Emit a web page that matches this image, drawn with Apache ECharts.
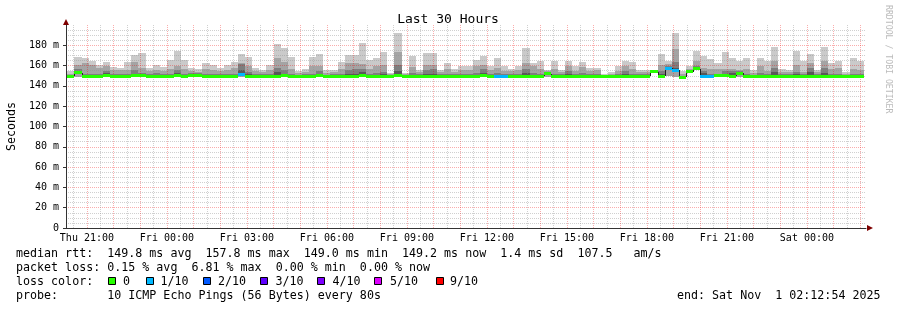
<!DOCTYPE html>
<html><head><meta charset="utf-8">
<script src="https://cdn.jsdelivr.net/npm/echarts@6/dist/echarts.min.js"></script>
<style>html,body{margin:0;padding:0;background:#fff}#c{width:897px;height:310px}</style>
</head><body><div id="c"></div>
<script>
// ---- data ----
const binStartMinute = 1216;   // first bin starts Thu 20:16 (minutes after Thu 00:00)
const binMinutes = 16;
const rttMax = [155,168,167,165,160.5,163.5,158.5,158,163.5,170,
172,158,161,158.5,166,174,166,158,156.5,162.5,
161,158,161,163.5,171,168,158,156,161,181,
177,168,155,157,168,171,156,156,163.5,170,
170,182,166,167,173,153,192,153,169.5,156,
172.5,172.5,156,162.5,157,160,160,165.5,169.5,160,
167,160,157,160,177,163,164.5,156,164.5,156,
165,160,163.5,158,158,151.5,154,160,164.5,163.5,
156,156,156,171,165,192,155,160,174.5,169.5,
166.5,163,173,167,165,167,156,167,165,178,
157,156,174.5,165,171.5,156,178,162.5,165,154,
167,165];
const rttP9 = [152,161,163,160.5,157.5,160,155.5,156,156,163.5,
158,155,156,155,157,160,157,155,154,157,
156,155,156,158,163,160,155,154,156,167,
164,157,153,154,160,160,153,154,157,163,
163,162,157,160,161,152,173,152,159,154,
161,161,154,157,154,156,156,160,160.5,156,
158,155,155,156,163,160,157,155,157,154,
160,155,159,155,156,151,152,155,160,157,
154,154,155.5,161,162,176,152,157,164.5,157.5,
157,157,157,157,156,157,153,160,155,164.5,
154,154,161,154,163,154,164.5,157,158,152,
157,156];
const rttP8 = [151,157,152,151.5,151.5,155,151.5,151.5,152,156,
153,151.5,153,151.5,152,156,152,152.5,152.5,152,
151.5,151.5,152,152,162,154,151.5,151.5,151.5,158,
156,152,151,151.5,152,155,151,151.5,152,156,
157,157,152,153,154,151,160.5,151,153,151.5,
156,157,151.5,152,151.5,151.5,151.5,153,157,151.5,
153,151.5,152,151.5,157,153,152,154,152,151.5,
155,151.5,153,151.5,151.5,150.5,151,151.5,155,152,
151.5,151.5,155,155,160,164,150,155.5,160,155,
152,152,155,155,155,152,151,153,151.5,158,
151.5,151.5,154,152,158,151.5,158,152,152,151,
152,151.5];
const rttP7 = [150.5,155,150.5,150.5,150.5,153,150.5,150.5,150.5,152,
151,150.5,151,150.5,150.5,153,150.5,151.5,151.5,150.5,
150.5,150.5,150.5,150.5,156,151.5,150.5,150.5,150.5,154,
152,150.5,150,150.5,150.5,152,150,150.5,150.5,152,
152,154,150.5,151,151.5,150.5,155,150.5,151,150.5,
152,152,150.5,150.5,150.5,150.5,150.5,151,153,150.5,
150.5,150.5,151,150.5,153,151,150.5,153,150.5,150.5,
152,150.5,151,150.5,150.5,150,150,150.5,152,150.5,
150.5,150.5,154.5,152,159,158,149.5,155,158,153,
150.5,150.5,152,152.5,154,150.5,150,151,150.5,154,
150.5,150.5,152,150.5,154,150.5,153,150.5,150.5,150.5,
150.5,150.5];
const rttMedian = [149.5,153,149.5,149.5,149.5,150,149.5,149.5,149.5,150,
150,149.5,149.5,149.5,149.5,150,149.5,150.5,150.5,149.5,
149.5,149.5,149.5,149.5,151,149.5,149.5,149.5,149.5,149.5,
150,149.5,149,149.5,149.5,150,149,149.5,149.5,149.5,
149.5,150,149.5,149.5,149.5,149.5,150,149.5,149.5,149.5,
149.5,149.5,149.5,149.5,149.5,149.5,149.5,149.5,150,149.5,
149.5,149.5,149.5,149.5,149.5,149.5,149.5,152,149.5,149.5,
149.5,149.5,149.5,149.5,149.5,149.5,149.5,149.5,149.5,149.5,
149.5,149.5,154,149.5,157.5,155.5,148.5,154,157,149.5,
149.5,150,150,149.5,152.5,149.5,149,149.5,149.5,149.5,
149,149.5,149.5,149.5,149.5,149.5,149.5,149.5,149.5,149.5,
149.5,149.5];
const rttMin = [148.5,149,148.5,148.5,148.5,148.5,148.5,148.5,148.5,148.5,
148.5,148.5,148.5,148.5,148.5,148.5,148.5,149,149,148.5,
148.5,148.5,148.5,148.5,149,148.5,148.5,148.5,148.5,148.5,
148.5,148.5,148,148.5,148.5,148.5,148,148.5,148.5,148.5,
148.5,148.5,148.5,148.5,148.5,148.5,148.5,148.5,148.5,148.5,
148.5,148.5,148.5,148.5,148.5,148.5,148.5,148.5,148.5,148.5,
148.5,148.5,148.5,148.5,148.5,148.5,148.5,149,148.5,148.5,
148.5,148.5,148.5,148.5,148.5,148.5,148.5,148.5,148.5,148.5,
148.5,148.5,153,148.5,150,149,147.5,153,156,148.5,
148.5,148.5,148.5,148.5,149,148.5,148,148.5,148.5,148.5,
148,148.5,148.5,148.5,148.5,148.5,148.5,148.5,148.5,148.5,
148.5,148.5];
const lossTenths = [0,0,0,0,0,0,0,0,0,0, 0,0,0,0,0,0,0,0,0,0, 0,0,0,0,1,0,0,0,0,0,
0,0,0,0,0,0,0,0,0,0, 0,0,0,0,0,0,0,0,0,0, 0,0,0,0,0,0,0,0,0,0,
1,1,0,0,0,0,0,0,0,0, 0,0,0,0,0,0,0,0,0,0, 0,0,0,0,1,1,0,0,0,1,
1,0,0,0,0,0,0,0,0,0, 0,0,0,0,0,0,0,0,0,0, 0,0];
const lossLevels = [0,1,2,3,4,5,9];
const lossLabels = ['0','1/10','2/10','3/10','4/10','5/10','9/10'];
const lossColors = ['#26ff00','#00b8ff','#0059ff','#5e00ff','#7e00ff','#dd00ff','#ff0000'];
const tickHours = [21,24,27,30,33,36,39,42,45,48];
const tickLabels = ['Thu 21:00','Fri 00:00','Fri 03:00','Fri 06:00','Fri 09:00','Fri 12:00','Fri 15:00','Fri 18:00','Fri 21:00','Sat 00:00'];
const startHour = 20 + 12/60 + 54/3600;  // Thu 20:12:54
const endHour = startHour + 30;           // Sat 02:12:54
const statsLine1 = 'median rtt:  149.8 ms avg  157.8 ms max  149.0 ms min  149.2 ms now  1.4 ms sd  107.5   am/s';
const statsLine2 = 'packet loss: 0.15 % avg  6.81 % max  0.00 % min  0.00 % now';
const probeLine = 'probe:       10 ICMP Echo Pings (56 Bytes) every 80s';
const endLine = 'end: Sat Nov  1 02:12:54 2025';

// ---- layout ----
const MONO = '"DejaVu Sans Mono", monospace';
const LEG_FS = 11.66;
const swatchX = [108.5,146.5,203.5,260.5,317.5,374.5,436.5];
const swatchTextX = [123,160.5,218,275.5,332.5,390,450];
const MGRID = 'rgba(240,0,0,0.32)';
const GRID = 'rgba(143,143,143,0.42)';

function lossColor(l){ let c = lossColors[0]; lossLevels.forEach((lv,k)=>{ if (l >= lv) c = lossColors[k]; }); return c; }

const items = rttMax.map((mx, i) => {
  const t0 = (binStartMinute + i*binMinutes)/60, t1 = (binStartMinute + (i+1)*binMinutes)/60;
  return [t0, t1, rttMin[i], rttP7[i], rttP8[i], rttP9[i], mx, rttMedian[i], lossTenths[i], i ? rttMedian[i-1] : rttMedian[i]];
});

function binEdges(api) {
  const t0 = api.value(0), t1 = api.value(1);
  return [Math.round(api.coord([t0, 0])[0]), Math.round(api.coord([t1, 0])[0]), v => api.coord([t0, v])[1]];
}
function renderSmoke(params, api) {
  const [xa, xb, Y] = binEdges(api);
  const band = (lo, hi, fill) => {
    const ya = Math.round(Y(hi)), yb = Math.round(Y(lo));
    return {type:'rect', shape:{x:xa, y:ya, width:xb-xa, height:Math.max(0, yb-ya)}, style:{fill}};
  };
  const mn = api.value(2), p7 = api.value(3), p8 = api.value(4), p9 = api.value(5), mx = api.value(6), med = api.value(7);
  return {type:'group', children:[
    band(mn, mx, '#cacaca'),
    band(mn, p9, '#a4a4a4'),
    band(med, p8, '#7e7e7e'),
    band(med, p7, '#585858')
  ]};
}
function renderMedian(params, api) {
  const [xa, xb, Y] = binEdges(api);
  const med = api.value(7), loss = api.value(8), prev = api.value(9);
  const yc = Y(med);
  return {type:'group', children:[
    {type:'line', shape:{x1:xa+0.5, y1:Math.round(Y(prev)), x2:xa+0.5, y2:Math.round(yc)}, style:{stroke:'#202020', lineWidth:1}},
    {type:'rect', shape:{x:xa, y:Math.round(yc-1.5), width:xb-xa, height:3}, style:{fill:lossColor(loss)}}
  ]};
}

const graphics = [
  {type:'text', x:448, y:20, style:{text:'Last 30 Hours', font:'13px '+MONO, fill:'#000', align:'center', verticalAlign:'middle', textAlign:'center', textVerticalAlign:'middle'}},
  {type:'text', x:888, y:5, rotation:-Math.PI/2, style:{text:'RRDTOOL / TOBI OETIKER', font:'8.2px '+MONO, fill:'#bbbbbb', align:'left', verticalAlign:'middle', textAlign:'left', textVerticalAlign:'middle'}},
  {type:'text', x:16, y:254, style:{text:statsLine1, font:LEG_FS+'px '+MONO, fill:'#000', verticalAlign:'middle', textVerticalAlign:'middle'}},
  {type:'text', x:16, y:268, style:{text:statsLine2, font:LEG_FS+'px '+MONO, fill:'#000', verticalAlign:'middle', textVerticalAlign:'middle'}},
  {type:'text', x:16, y:282, style:{text:'loss color:', font:LEG_FS+'px '+MONO, fill:'#000', verticalAlign:'middle', textVerticalAlign:'middle'}},
  {type:'text', x:16, y:296, style:{text:probeLine, font:LEG_FS+'px '+MONO, fill:'#000', verticalAlign:'middle', textVerticalAlign:'middle'}},
  {type:'text', x:880.5, y:296, style:{text:endLine, font:LEG_FS+'px '+MONO, fill:'#000', align:'right', textAlign:'right', verticalAlign:'middle', textVerticalAlign:'middle'}}
];
lossLabels.forEach((lab, k) => {
  graphics.push({type:'rect', shape:{x:swatchX[k], y:277.5, width:7, height:7}, style:{fill:lossColors[k], stroke:'#000', lineWidth:1}});
  graphics.push({type:'text', x:swatchTextX[k], y:282, style:{text:lab, font:LEG_FS+'px '+MONO, fill:'#000', verticalAlign:'middle', textVerticalAlign:'middle'}});
});

const chart = echarts.init(document.getElementById('c'), null, {renderer:'canvas'});
chart.setOption({
  animation:false,
  backgroundColor:'#ffffff',
  grid:{left:66, top:25, width:800, height:203, containLabel:false, outerBoundsMode:'none'},
  xAxis:[
    {type:'value', min:startHour, max:endHour, splitNumber:30, minInterval:1, maxInterval:1, z:5,
     axisLine:{show:true, lineStyle:{color:'#333', width:1}}, axisTick:{show:false}, axisLabel:{show:false},
     splitLine:{show:true, showMinLine:false, showMaxLine:false, lineStyle:{color:MGRID, width:1, type:[1,1]}},
     minorTick:{show:false, splitNumber:2},
     minorSplitLine:{show:true, lineStyle:{color:GRID, width:1, type:[1,1]}}},
    {type:'value', position:'bottom', min:startHour, max:endHour, minInterval:3, maxInterval:3, z:5,
     axisLine:{show:false}, axisTick:{show:false}, splitLine:{show:false},
     axisLabel:{show:true, interval:0, showMinLabel:false, showMaxLabel:false, margin:5, color:'#000', fontFamily:MONO, fontSize:10,
       formatter:v => { const k = tickHours.findIndex(h => Math.abs(h - v) < 1e-6); return k >= 0 ? tickLabels[k] : ''; }}},
    {type:'value', position:'bottom', min:startHour, max:endHour, z:12,
     axisLine:{show:true, symbol:['none','triangle'], symbolSize:[6,6], symbolOffset:[0,4], lineStyle:{color:'#7f0000', width:0}},
     axisTick:{show:false}, axisLabel:{show:false}, splitLine:{show:false}}
  ],
  yAxis:[
    {type:'value', min:0, max:200, interval:20, z:5,
     axisLine:{show:true, lineStyle:{color:'#333', width:1}},
     axisTick:{show:true, length:3, lineStyle:{color:'#333'}},
     axisLabel:{showMaxLabel:false, margin:7, color:'#000', fontFamily:MONO, fontSize:10, formatter:v => v === 0 ? '0' : v + ' m'},
     splitLine:{show:true, showMinLine:false, showMaxLine:false, lineStyle:{color:MGRID, width:1, type:[1,1]}},
     minorTick:{show:false, splitNumber:4},
     minorSplitLine:{show:true, lineStyle:{color:GRID, width:1, type:[1,1]}},
     name:'Seconds', nameLocation:'middle', nameGap:48, nameRotate:90,
     nameTextStyle:{color:'#000', fontFamily:MONO, fontSize:LEG_FS}},
    {type:'value', position:'left', min:0, max:200, z:12,
     axisLine:{show:true, symbol:['none','triangle'], symbolSize:[6,6], symbolOffset:[0,3], lineStyle:{color:'#7f0000', width:0}},
     axisTick:{show:false}, axisLabel:{show:false}, splitLine:{show:false}}
  ],
  graphic:{elements:graphics},
  series:[
    {type:'custom', name:'smoke', xAxisIndex:0, yAxisIndex:0, clip:true, renderItem:renderSmoke, data:items, z:2,
     encode:{x:[0,1], y:[2,6]}},
    {type:'custom', name:'median rtt', xAxisIndex:0, yAxisIndex:0, clip:true, renderItem:renderMedian, data:items, z:10,
     encode:{x:[0,1], y:[7]}}
  ]
});
</script></body></html>
